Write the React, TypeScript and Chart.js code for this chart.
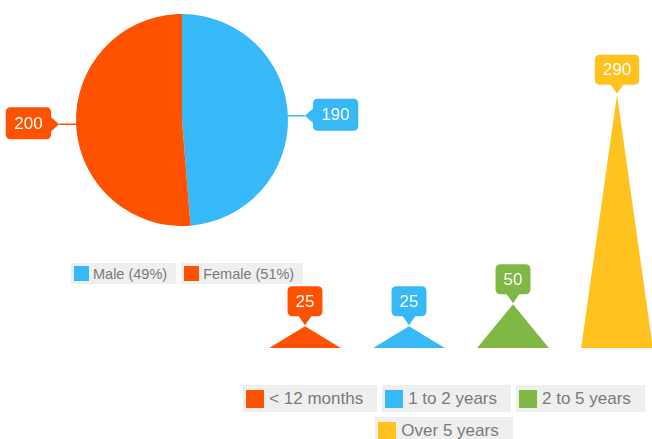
import React, { useEffect, useRef } from "react";
import { Chart, registerables } from "chart.js";

Chart.register(...registerables);

const genderLabels = ["Male", "Female"];
const genderValues = [190, 200];
const genderColors = ["#37b8f7", "#ff5200"];

const tenureLabels = ["< 12 months", "1 to 2 years", "2 to 5 years", "Over 5 years"];
const tenureValues = [25, 25, 50, 290];
const tenureColors = ["#ff5200", "#37b8f7", "#7fb844", "#ffc21f"];
const tenureMax = 300;

const FONT = '"Liberation Sans", Arial, Helvetica, sans-serif';

function roundRectPath(ctx: CanvasRenderingContext2D, x: number, y: number, w: number, h: number, r: number) {
  ctx.beginPath();
  ctx.moveTo(x + r, y);
  ctx.lineTo(x + w - r, y);
  ctx.quadraticCurveTo(x + w, y, x + w, y + r);
  ctx.lineTo(x + w, y + h - r);
  ctx.quadraticCurveTo(x + w, y + h, x + w - r, y + h);
  ctx.lineTo(x + r, y + h);
  ctx.quadraticCurveTo(x, y + h, x, y + h - r);
  ctx.lineTo(x, y + r);
  ctx.quadraticCurveTo(x, y, x + r, y);
  ctx.closePath();
}

const pieCallouts = {
  id: "pieCallouts",
  afterDatasetsDraw(chart: any) {
    const ctx: CanvasRenderingContext2D = chart.ctx;
    const meta = chart.getDatasetMeta(0);
    meta.data.forEach((arc: any, i: number) => {
      const p = arc.getProps(["x", "y", "startAngle", "endAngle", "outerRadius"], true);
      const mid = (p.startAngle + p.endAngle) / 2;
      const ex = p.x + Math.cos(mid) * p.outerRadius;
      const ey = p.y + Math.sin(mid) * p.outerRadius;
      const right = Math.cos(mid) >= 0;
      const dir = right ? 1 : -1;
      const tipX = ex + dir * 17;
      const color = genderColors[i];
      ctx.save();
      ctx.strokeStyle = color;
      ctx.lineWidth = 1.5;
      ctx.beginPath();
      ctx.moveTo(ex, ey);
      ctx.lineTo(tipX, ey);
      ctx.stroke();
      const text = String(genderValues[i]);
      ctx.font = `17px ${FONT}`;
      const tw = ctx.measureText(text).width;
      const bw = tw + 17;
      const bh = 32;
      const bx = right ? tipX + 8 : tipX - 8 - bw;
      const by = ey - 1 - bh / 2;
      ctx.fillStyle = color;
      roundRectPath(ctx, bx, by, bw, bh, 5);
      ctx.fill();
      const edge = right ? bx + 1 : bx + bw - 1;
      ctx.beginPath();
      ctx.moveTo(edge, ey - 8);
      ctx.lineTo(tipX, ey);
      ctx.lineTo(edge, ey + 8);
      ctx.closePath();
      ctx.fill();
      ctx.fillStyle = "#ffffff";
      ctx.textAlign = "center";
      ctx.textBaseline = "middle";
      ctx.fillText(text, bx + bw / 2, by + bh / 2 + 1);
      ctx.restore();
    });
  },
};

const triangleBars = {
  id: "triangleBars",
  afterDatasetsDraw(chart: any) {
    const ctx: CanvasRenderingContext2D = chart.ctx;
    const meta = chart.getDatasetMeta(0);
    meta.data.forEach((bar: any, i: number) => {
      const p = bar.getProps(["x", "y", "base", "width"], true);
      const color = tenureColors[i];
      ctx.save();
      ctx.fillStyle = color;
      ctx.beginPath();
      ctx.moveTo(p.x - p.width / 2, p.base);
      ctx.lineTo(p.x, p.y);
      ctx.lineTo(p.x + p.width / 2, p.base);
      ctx.closePath();
      ctx.fill();
      // callout
      const text = String(tenureValues[i]);
      ctx.font = `17px ${FONT}`;
      const tw = ctx.measureText(text).width;
      const bw = tw + 16;
      const bh = 30;
      const tipY = p.y - 1;
      const bottom = tipY - 9;
      const bx = p.x - bw / 2;
      const by = bottom - bh;
      roundRectPath(ctx, bx, by, bw, bh, 5);
      ctx.fill();
      ctx.beginPath();
      ctx.moveTo(p.x - 7, bottom - 1);
      ctx.lineTo(p.x, tipY);
      ctx.lineTo(p.x + 7, bottom - 1);
      ctx.closePath();
      ctx.fill();
      ctx.fillStyle = "#ffffff";
      ctx.textAlign = "center";
      ctx.textBaseline = "middle";
      ctx.fillText(text, p.x, by + bh / 2 + 1);
      ctx.restore();
    });
  },
};

function LegendItem(props: { color: string; label: string; size: "small" | "big" }) {
  const big = props.size === "big";
  return (
    <div
      style={{
        display: "flex",
        alignItems: "center",
        height: big ? 27 : 21,
        background: "#efefef",
        padding: big ? "0 14px 0 3px" : "0 9px 0 3px",
        boxSizing: "border-box",
        fontFamily: FONT,
        fontSize: big ? 17 : 14.5,
        color: "#7a7a7a",
        whiteSpace: "nowrap",
      }}
    >
      <span
        style={{
          display: "inline-block",
          width: big ? 18 : 15,
          height: big ? 18 : 15,
          background: props.color,
          marginRight: big ? 5 : 4,
          flex: "none",
        }}
      />
      <span>{props.label}</span>
    </div>
  );
}

export default function App() {
  const pieRef = useRef<HTMLCanvasElement | null>(null);
  const barRef = useRef<HTMLCanvasElement | null>(null);

  useEffect(() => {
    const pie = new Chart(pieRef.current as HTMLCanvasElement, {
      type: "pie",
      data: {
        labels: genderLabels,
        datasets: [
          {
            data: genderValues,
            backgroundColor: genderColors,
            borderWidth: 0,
          },
        ],
      },
      options: {
        responsive: false,
        animation: false,
        devicePixelRatio: 1,
        layout: { padding: { top: 14, bottom: 14, left: 0, right: 0 } },
        plugins: { legend: { display: false }, tooltip: { enabled: false } },
      },
      plugins: [pieCallouts],
    } as any);

    const bar = new Chart(barRef.current as HTMLCanvasElement, {
      type: "bar",
      data: {
        labels: tenureLabels,
        datasets: [
          {
            data: tenureValues,
            backgroundColor: "rgba(0,0,0,0)",
            borderWidth: 0,
            barPercentage: 0.69,
            categoryPercentage: 1,
          },
        ],
      },
      options: {
        responsive: false,
        animation: false,
        devicePixelRatio: 1,
        layout: { padding: { top: 86, bottom: 12, left: 3, right: 1 } },
        scales: {
          x: { display: false },
          y: { display: false, min: 0, max: tenureMax },
        },
        plugins: { legend: { display: false }, tooltip: { enabled: false } },
      },
      plugins: [triangleBars],
    } as any);

    return () => {
      pie.destroy();
      bar.destroy();
    };
  }, []);

  const total = genderValues.reduce((a, b) => a + b, 0);

  return (
    <div
      style={{
        position: "absolute",
        left: 0,
        top: 0,
        width: 652,
        height: 439,
        overflow: "hidden",
        background: "#ffffff",
      }}
    >
      <canvas
        ref={barRef}
        width={420}
        height={360}
        style={{ position: "absolute", left: 250, top: 0, width: 420, height: 360 }}
      />
      <canvas
        ref={pieRef}
        width={364}
        height={240}
        style={{ position: "absolute", left: 0, top: 0, width: 364, height: 240 }}
      />
      <div style={{ position: "absolute", left: 71, top: 263, display: "flex", gap: 5 }}>
        {genderLabels.map((l, i) => (
          <LegendItem
            key={l}
            color={genderColors[i]}
            label={`${l} (${Math.round((genderValues[i] / total) * 100)}%)`}
            size="small"
          />
        ))}
      </div>
      <div
        style={{
          position: "absolute",
          left: 236,
          top: 385,
          width: 416,
          display: "flex",
          flexWrap: "wrap",
          justifyContent: "center",
          columnGap: 5,
          rowGap: 5,
        }}
      >
        {tenureLabels.map((l, i) => (
          <LegendItem key={l} color={tenureColors[i]} label={l} size="big" />
        ))}
      </div>
    </div>
  );
}
